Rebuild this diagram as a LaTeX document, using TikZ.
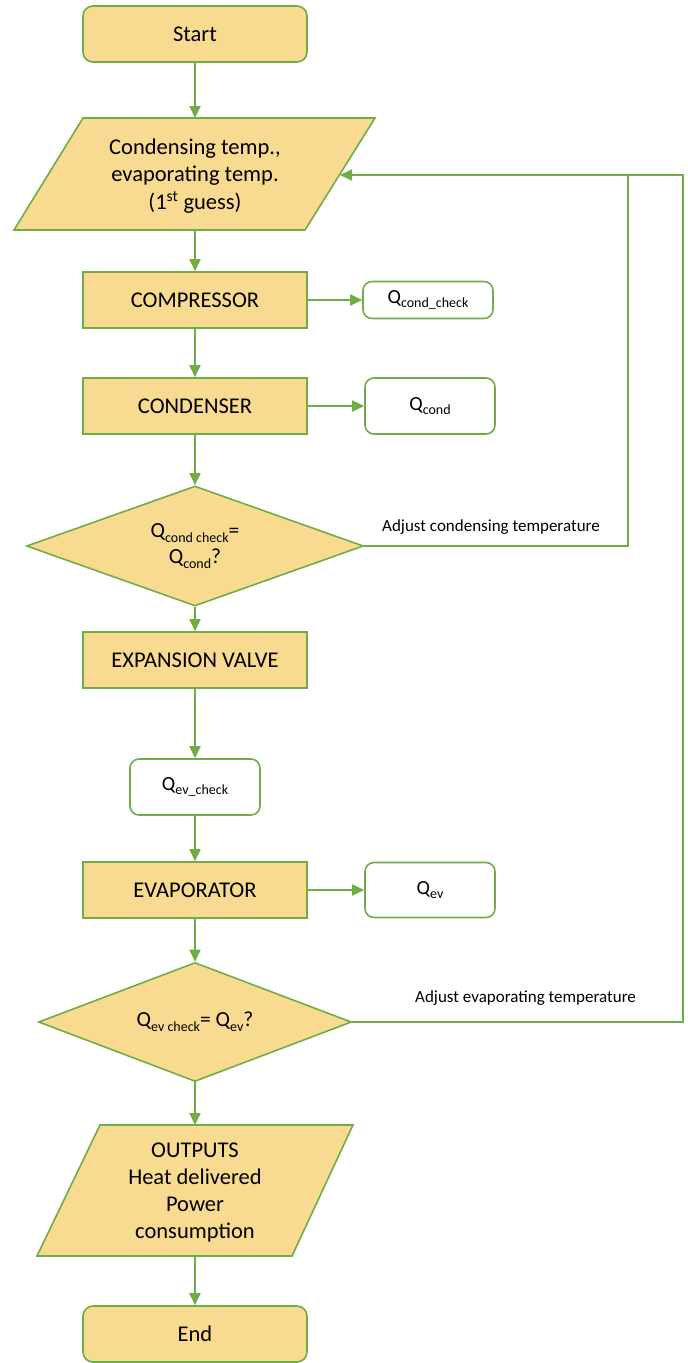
\documentclass[tikz,border=0pt]{standalone}
\usepackage{fontspec}
\setmainfont{Carlito}
\usetikzlibrary{shapes.geometric,arrows.meta}
\definecolor{gr}{HTML}{70AD47}
\definecolor{yel}{HTML}{F9DA91}
\newcommand\mysub[1]{\raisebox{-0.45ex}{\fontsize{14}{14}\selectfont #1}}
\tikzset{
  base/.style={draw=gr, line width=1.6pt, text=black, align=center, inner sep=2pt},
  proc/.style={base, fill=yel, minimum width=224pt, minimum height=56pt, font=\fontsize{22.5}{27}\selectfont},
  term/.style={proc, rounded corners=10pt},
  qbox/.style={base, fill=white, rounded corners=9pt, minimum width=130pt, font=\fontsize{20}{24}\selectfont},
  dec/.style={base, fill=yel, shape=diamond, aspect=2.8, inner sep=0pt, font=\fontsize{21.5}{26}\selectfont},
  para/.style={draw=gr, line width=1.6pt, fill=yel, line join=miter},
  conn/.style={draw=gr, line width=1.8pt, -{Triangle[length=12pt,width=11pt]}},
  line/.style={draw=gr, line width=1.8pt},
  lbl/.style={font=\fontsize{17}{20}\selectfont, anchor=west, inner sep=0pt}
}
\begin{document}
\begin{tikzpicture}[x=1pt,y=-1pt]
\useasboundingbox (0,0) rectangle (688,1363);
% nodes
\node[term] (start) at (195,34) {Start};
\draw[para] (83,118) -- (375,118) -- (305,230) -- (14,230) -- cycle;
\coordinate (p1n) at (229,118);
\coordinate (p1s) at (160,230);
\coordinate (p1e) at (340,175);
\node[align=center, font=\fontsize{22.5}{27.5}\selectfont] (p1) at (195,176) {Condensing temp.,\\evaporating temp.\\(1\textsuperscript{st} guess)};
\node[proc] (comp) at (195,300) {COMPRESSOR};
\node[qbox, minimum height=37pt] (qcc) at (428,300) {Q\mysub{cond\_check}};
\node[proc] (cond) at (195,406) {CONDENSER};
\node[qbox, minimum height=56pt] (qc) at (430,406) {Q\mysub{cond}};
\node[dec, minimum width=337pt, minimum height=120pt] (d1) at (195,546) {Q\mysub{cond check}=\\Q\mysub{cond}?};
\node[proc] (ev) at (195,660) {EXPANSION VALVE};
\node[qbox, minimum height=56pt] (qec) at (195,787) {Q\mysub{ev\_check}};
\node[proc] (evap) at (195,890) {EVAPORATOR};
\node[qbox, minimum height=55pt] (qe) at (430,890) {Q\mysub{ev}};
\node[dec, minimum width=313pt, minimum height=119pt] (d2) at (195,1022) {Q\mysub{ev check}= Q\mysub{ev}?};
\draw[para] (100,1125) -- (353,1125) -- (292,1256) -- (37,1256) -- cycle;
\coordinate (p2n) at (195,1125);
\coordinate (p2s) at (195,1256);
\node[align=center, font=\fontsize{22.5}{27}\selectfont] (p2) at (195,1192) {OUTPUTS\\Heat delivered\\Power\\consumption};
\node[term] (end) at (195,1334) {End};
% connectors
\draw[conn] (start.south) -- (start.south |- p1n);
\draw[conn] (start.south |- p1s) -- (comp.north);
\draw[conn] (comp) -- (cond);
\draw[conn] (cond) -- (d1.north);
\draw[conn] (d1.south) -- (ev.north);
\draw[conn] (ev) -- (qec);
\draw[conn] (qec) -- (evap);
\draw[conn] (evap) -- (d2.north);
\draw[conn] (d2.south) -- (p2n);
\draw[conn] (p2s) -- (end.north);
\draw[conn] (comp.east) -- (qcc.west);
\draw[conn] (cond.east) -- (qc.west);
\draw[conn] (evap.east) -- (qe.west);
\coordinate (j1) at (628,175);
\coordinate (j2) at (683,175);
\draw[line] (d1.east) -| (j1);
\draw[conn] (d2.east) -| (j2) -- (p1e);
\node[lbl] (l1) at (382,527) {Adjust condensing temperature};
\node[lbl] (l2) at (415,998) {Adjust evaporating temperature};
\end{tikzpicture}
\end{document}
